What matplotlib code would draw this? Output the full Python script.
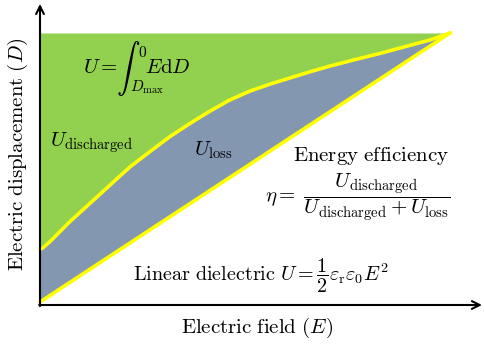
import matplotlib
matplotlib.use("Agg")
import matplotlib.pyplot as plt
import numpy as np

plt.rcParams['mathtext.fontset'] = 'cm'

curve_E = [0.0, 0.005, 0.024, 0.073, 0.122, 0.171, 0.220, 0.268, 0.317, 0.366,
           0.415, 0.463, 0.512, 0.561, 0.610, 0.659, 0.707, 0.768, 0.829,
           0.890, 0.951, 1.0]
curve_D = [0.197, 0.199, 0.224, 0.299, 0.367, 0.435, 0.503, 0.559, 0.615, 0.664,
           0.710, 0.751, 0.784, 0.810, 0.833, 0.856, 0.877, 0.901, 0.924,
           0.949, 0.974, 1.0]
# linear dielectric line
line_E = [0.0, 1.0]
line_D = [0.0, 1.0]

green = '#92D050'
grey_blue = '#8497B0'
yellow = '#FFFF00'

fig = plt.figure(figsize=(4.84, 3.44), dpi=100)
ax = fig.add_axes([0, 0, 1, 1])
ax.set_xlim(-40 / 410, 444 / 410)
ax.set_ylim(-42 / 269, 302 / 269)
ax.axis('off')

# discharged energy: between curve and D_max
ax.fill_between(curve_E, curve_D, 1.0, color=green, lw=0)
# loss: between linear line and curve
loss_E = np.concatenate([curve_E, line_E[::-1]])
loss_D = np.concatenate([curve_D, line_D[::-1]])
ax.fill(loss_E, loss_D, color=grey_blue, lw=0)

ax.plot(curve_E, curve_D, color=yellow, lw=2.6, solid_joinstyle='round')
ax.plot(line_E, line_D, color=yellow, lw=2.6)

# axes with arrows
y0 = -3 / 269
ax.annotate('', xy=(1.078, y0), xytext=(-0.002, y0),
            arrowprops=dict(arrowstyle='->', lw=1.5, color='black',
                            mutation_scale=14, shrinkA=0, shrinkB=0))
ax.annotate('', xy=(0, 1.108), xytext=(0, y0 - 0.004),
            arrowprops=dict(arrowstyle='->', lw=1.5, color='black',
                            mutation_scale=14, shrinkA=0, shrinkB=0))

fs = 15
ax.text(0.530, -0.097, r'$\mathrm{Electric\ field\ }(E)$', fontsize=fs,
        ha='center', va='center')
ax.text(-0.054, 0.55, r'$\mathrm{Electric\ displacement\ }(D)$', fontsize=fs,
        ha='center', va='center', rotation=90)

# stored energy integral, set piece by piece
ax.text(0.105, 0.853, r'$U=$', fontsize=fs, ha='left', va='baseline')
ax.text(0.186, 0.868, r'$\int$', fontsize=17, ha='left', va='center')
ax.text(0.238, 0.926, r'$0$', fontsize=11, ha='left', va='center')
ax.text(0.219, 0.800, r'$D_{\max}$', fontsize=11, ha='left', va='center')
ax.text(0.256, 0.853, r'$E\mathrm{d}D$', fontsize=fs, ha='left', va='baseline')

ax.text(0.126, 0.591, r'$U_{\mathrm{discharged}}$', fontsize=fs,
        ha='center', va='center')
ax.text(0.422, 0.565, r'$U_{\mathrm{loss}}$', fontsize=fs,
        ha='center', va='center')
ax.text(0.807, 0.543, r'$\mathrm{Energy\ efficiency}$', fontsize=fs,
        ha='center', va='center')
ax.text(0.776, 0.390,
        r'$\eta=\;\dfrac{U_{\mathrm{discharged}}}{U_{\mathrm{discharged}}+U_{\mathrm{loss}}}$',
        fontsize=fs, ha='center', va='center')
ax.text(0.538, 0.097,
        r'$\mathrm{Linear\ dielectric\ }U=\dfrac{1}{2}\varepsilon_{\mathrm{r}}\varepsilon_0E^2$',
        fontsize=14.5, ha='center', va='center')

fig.savefig('out.png', dpi=100)
